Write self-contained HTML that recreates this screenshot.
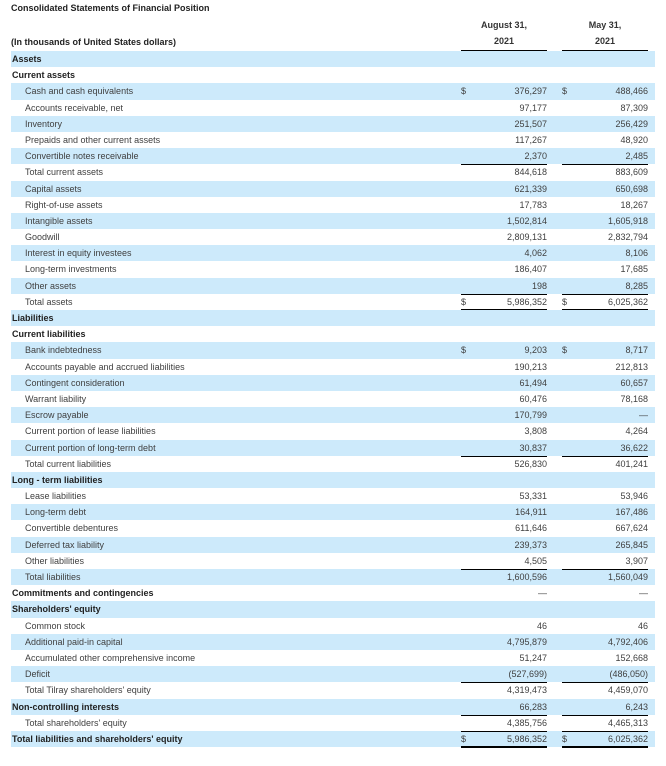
<!DOCTYPE html>
<html><head><meta charset="utf-8"><style>
body{margin:0;width:666px;height:766px;background:#fff;font-family:"Liberation Sans",Arial,sans-serif;font-size:9px;color:#404040;position:relative;overflow:hidden}
.t{position:absolute;left:11px;top:3px;font-weight:bold;color:#222;font-size:9px}
.h{position:absolute;font-weight:bold;color:#333;text-align:center;width:86px}
.ul{position:absolute;top:50px;height:1px;background:#000;width:86px;z-index:5}
#rows{position:absolute;left:11px;top:51px;width:644px}
.r{height:16.19px;line-height:16.19px;position:relative;white-space:nowrap}
.r:nth-child(odd){background:#cdeafb}
.l{position:absolute;left:14px}
.b .l{left:1px;font-weight:bold;color:#222}
.d1,.d2{position:absolute}
.d1{left:450px}.d2{left:551px}
.v1,.v2{position:absolute;text-align:right;width:86px}
.v1{left:450px}.v2{left:551px}
.tl .v1,.tl .v2{border-top:1px solid #000;height:15px;top:0}
.tl .v1,.tl .v2{line-height:15px}
.dl::after,.dl::before{content:"";position:absolute;height:2px;background:#000;width:86px;bottom:-1px}
.dl::before{left:450px}.dl::after{left:551px}
</style></head><body>
<div class="t">Consolidated Statements of Financial Position</div>
<div class="h" style="left:461px;top:20px">August 31,</div>
<div class="h" style="left:461px;top:36px">2021</div>
<div class="h" style="left:562px;top:20px">May 31,</div>
<div class="h" style="left:562px;top:36px">2021</div>
<div style="position:absolute;left:11px;top:37px;font-weight:bold;color:#222">(In thousands of United States dollars)</div>
<div class="ul" style="left:461px"></div><div class="ul" style="left:562px"></div>
<div id="rows">
<div class="r b"><span class="l">Assets</span></div>
<div class="r b"><span class="l">Current assets</span></div>
<div class="r"><span class="l">Cash and cash equivalents</span><span class="d1">$</span><span class="v1">376,297</span><span class="d2">$</span><span class="v2">488,466</span></div>
<div class="r"><span class="l">Accounts receivable, net</span><span class="v1">97,177</span><span class="v2">87,309</span></div>
<div class="r"><span class="l">Inventory</span><span class="v1">251,507</span><span class="v2">256,429</span></div>
<div class="r"><span class="l">Prepaids and other current assets</span><span class="v1">117,267</span><span class="v2">48,920</span></div>
<div class="r"><span class="l">Convertible notes receivable</span><span class="v1">2,370</span><span class="v2">2,485</span></div>
<div class="r tl"><span class="l">Total current assets</span><span class="v1">844,618</span><span class="v2">883,609</span></div>
<div class="r"><span class="l">Capital assets</span><span class="v1">621,339</span><span class="v2">650,698</span></div>
<div class="r"><span class="l">Right-of-use assets</span><span class="v1">17,783</span><span class="v2">18,267</span></div>
<div class="r"><span class="l">Intangible assets</span><span class="v1">1,502,814</span><span class="v2">1,605,918</span></div>
<div class="r"><span class="l">Goodwill</span><span class="v1">2,809,131</span><span class="v2">2,832,794</span></div>
<div class="r"><span class="l">Interest in equity investees</span><span class="v1">4,062</span><span class="v2">8,106</span></div>
<div class="r"><span class="l">Long-term investments</span><span class="v1">186,407</span><span class="v2">17,685</span></div>
<div class="r"><span class="l">Other assets</span><span class="v1">198</span><span class="v2">8,285</span></div>
<div class="r tl dl"><span class="l">Total assets</span><span class="d1">$</span><span class="v1">5,986,352</span><span class="d2">$</span><span class="v2">6,025,362</span></div>
<div class="r b"><span class="l">Liabilities</span></div>
<div class="r b"><span class="l">Current liabilities</span></div>
<div class="r"><span class="l">Bank indebtedness</span><span class="d1">$</span><span class="v1">9,203</span><span class="d2">$</span><span class="v2">8,717</span></div>
<div class="r"><span class="l">Accounts payable and accrued liabilities</span><span class="v1">190,213</span><span class="v2">212,813</span></div>
<div class="r"><span class="l">Contingent consideration</span><span class="v1">61,494</span><span class="v2">60,657</span></div>
<div class="r"><span class="l">Warrant liability</span><span class="v1">60,476</span><span class="v2">78,168</span></div>
<div class="r"><span class="l">Escrow payable</span><span class="v1">170,799</span><span class="v2">—</span></div>
<div class="r"><span class="l">Current portion of lease liabilities</span><span class="v1">3,808</span><span class="v2">4,264</span></div>
<div class="r"><span class="l">Current portion of long-term debt</span><span class="v1">30,837</span><span class="v2">36,622</span></div>
<div class="r tl"><span class="l">Total current liabilities</span><span class="v1">526,830</span><span class="v2">401,241</span></div>
<div class="r b"><span class="l">Long - term liabilities</span></div>
<div class="r"><span class="l">Lease liabilities</span><span class="v1">53,331</span><span class="v2">53,946</span></div>
<div class="r"><span class="l">Long-term debt</span><span class="v1">164,911</span><span class="v2">167,486</span></div>
<div class="r"><span class="l">Convertible debentures</span><span class="v1">611,646</span><span class="v2">667,624</span></div>
<div class="r"><span class="l">Deferred tax liability</span><span class="v1">239,373</span><span class="v2">265,845</span></div>
<div class="r"><span class="l">Other liabilities</span><span class="v1">4,505</span><span class="v2">3,907</span></div>
<div class="r tl"><span class="l">Total liabilities</span><span class="v1">1,600,596</span><span class="v2">1,560,049</span></div>
<div class="r b"><span class="l">Commitments and contingencies</span><span class="v1">—</span><span class="v2">—</span></div>
<div class="r b"><span class="l">Shareholders' equity</span></div>
<div class="r"><span class="l">Common stock</span><span class="v1">46</span><span class="v2">46</span></div>
<div class="r"><span class="l">Additional paid-in capital</span><span class="v1">4,795,879</span><span class="v2">4,792,406</span></div>
<div class="r"><span class="l">Accumulated other comprehensive income</span><span class="v1">51,247</span><span class="v2">152,668</span></div>
<div class="r"><span class="l">Deficit</span><span class="v1">(527,699)</span><span class="v2">(486,050)</span></div>
<div class="r tl"><span class="l">Total Tilray shareholders' equity</span><span class="v1">4,319,473</span><span class="v2">4,459,070</span></div>
<div class="r b"><span class="l">Non-controlling interests</span><span class="v1">66,283</span><span class="v2">6,243</span></div>
<div class="r tl"><span class="l">Total shareholders' equity</span><span class="v1">4,385,756</span><span class="v2">4,465,313</span></div>
<div class="r tl dl b"><span class="l">Total liabilities and shareholders' equity</span><span class="d1">$</span><span class="v1">5,986,352</span><span class="d2">$</span><span class="v2">6,025,362</span></div>
</div>
</body></html>
